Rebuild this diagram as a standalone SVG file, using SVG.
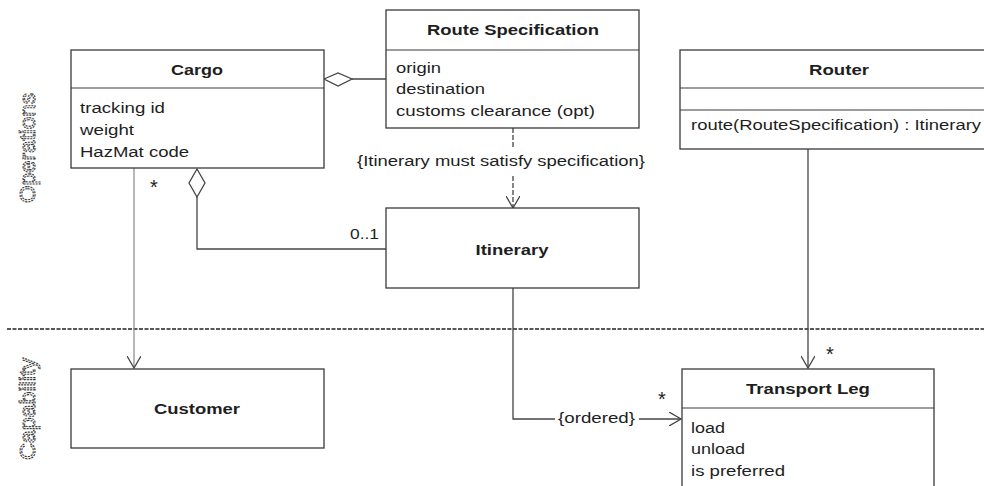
<svg xmlns="http://www.w3.org/2000/svg" width="984" height="486" viewBox="0 0 984 486">
<defs>
<style>
.box{fill:#fff;stroke:#3a3a3a;stroke-width:1.3}
.div{stroke:#3a3a3a;stroke-width:1.2;fill:none}
.t{font-family:"Liberation Sans",Arial,sans-serif;font-size:14px;fill:#1e1e1e}
.b{font-weight:bold;text-anchor:middle}
.ast{font-family:"Liberation Sans",Arial,sans-serif;font-size:20px;fill:#222;text-anchor:middle}
.ln{stroke:#444;stroke-width:1.3;fill:none}
.lt{stroke:#888;stroke-width:1.2;fill:none}
.dia{fill:#fff;stroke:#444;stroke-width:1.3}
.lane{font-family:"Liberation Sans",Arial,sans-serif;font-size:22px;fill:#fff;stroke:#3a3a3a;stroke-width:1.1;stroke-dasharray:2 1;text-anchor:middle}
</style>
<marker id="open" viewBox="0 0 14 14" refX="12" refY="7" markerWidth="14" markerHeight="14" markerUnits="userSpaceOnUse" orient="auto">
<path d="M0,0 L12,7 L0,14" fill="none" stroke="#444" stroke-width="1.3"/>
</marker>
</defs>

<g id="lanes">
<line x1="7" y1="329" x2="984" y2="329" stroke="#222" stroke-width="1.4" stroke-dasharray="4 1.5"/>
<text class="lane" transform="translate(35,148) rotate(-90)" textLength="110" lengthAdjust="spacingAndGlyphs">Operations</text>
<text class="lane" transform="translate(35,409) rotate(-90)" textLength="102" lengthAdjust="spacingAndGlyphs">Capability</text>
</g>

<g id="connectors">
<polygon class="dia" points="324,79 338,73 352,79 338,86"/>
<line class="ln" x1="352" y1="79" x2="386" y2="79"/>
<polygon class="dia" points="197,169 205,183 197,197 189,183"/>
<polyline class="ln" points="197,197 197,249 386,249"/>
<line class="lt" x1="134" y1="168" x2="134" y2="368" marker-end="url(#open)"/>
<line class="ln" x1="513" y1="128" x2="513" y2="149" stroke-dasharray="5 2"/>
<line class="ln" x1="513" y1="176" x2="513" y2="208" stroke-dasharray="5 2" marker-end="url(#open)"/>
<polyline class="ln" points="513,288 513,419 555,419"/>
<line class="ln" x1="639" y1="419" x2="681" y2="419" marker-end="url(#open)"/>
<line class="ln" x1="808" y1="149" x2="808" y2="368" marker-end="url(#open)"/>
<text class="ast" x="154" y="194">*</text>
<text class="t" x="350" y="239" textLength="29" lengthAdjust="spacingAndGlyphs">0..1</text>
<text class="t" x="357" y="166" textLength="288" lengthAdjust="spacingAndGlyphs">{Itinerary must satisfy specification}</text>
<text class="t" x="558" y="423" textLength="77" lengthAdjust="spacingAndGlyphs">{ordered}</text>
<text class="ast" x="662" y="406">*</text>
<text class="ast" x="830" y="361">*</text>
</g>

<g id="cargo">
<rect class="box" x="71" y="50" width="253" height="118"/>
<line class="div" x1="71" y1="88" x2="324" y2="88"/>
<text class="t b" x="197" y="75" textLength="52" lengthAdjust="spacingAndGlyphs">Cargo</text>
<text class="t" x="80" y="113" textLength="85" lengthAdjust="spacingAndGlyphs">tracking id</text>
<text class="t" x="80" y="135" textLength="54" lengthAdjust="spacingAndGlyphs">weight</text>
<text class="t" x="80" y="157" textLength="109" lengthAdjust="spacingAndGlyphs">HazMat code</text>
</g>

<g id="route-specification">
<rect class="box" x="386" y="10" width="253" height="118"/>
<line class="div" x1="386" y1="50" x2="639" y2="50"/>
<text class="t b" x="513" y="35" textLength="172" lengthAdjust="spacingAndGlyphs">Route Specification</text>
<text class="t" x="396" y="73" textLength="45" lengthAdjust="spacingAndGlyphs">origin</text>
<text class="t" x="396" y="94" textLength="89" lengthAdjust="spacingAndGlyphs">destination</text>
<text class="t" x="396" y="116" textLength="199" lengthAdjust="spacingAndGlyphs">customs clearance (opt)</text>
</g>

<g id="router">
<rect class="box" x="680" y="50" width="320" height="99"/>
<line class="div" x1="680" y1="88" x2="1000" y2="88"/>
<line class="div" x1="680" y1="110" x2="1000" y2="110"/>
<text class="t b" x="839" y="75" textLength="60" lengthAdjust="spacingAndGlyphs">Router</text>
<text class="t" x="691" y="130" textLength="290" lengthAdjust="spacingAndGlyphs">route(RouteSpecification) : Itinerary</text>
</g>

<g id="itinerary">
<rect class="box" x="386" y="208" width="253" height="80"/>
<text class="t b" x="512" y="255" textLength="73" lengthAdjust="spacingAndGlyphs">Itinerary</text>
</g>

<g id="customer">
<rect class="box" x="71" y="369" width="253" height="79"/>
<text class="t b" x="197" y="414" textLength="86" lengthAdjust="spacingAndGlyphs">Customer</text>
</g>

<g id="transport-leg">
<rect class="box" x="682" y="369" width="252" height="130"/>
<line class="div" x1="682" y1="408" x2="934" y2="408"/>
<text class="t b" x="808" y="394" textLength="124" lengthAdjust="spacingAndGlyphs">Transport Leg</text>
<text class="t" x="691" y="433" textLength="34" lengthAdjust="spacingAndGlyphs">load</text>
<text class="t" x="691" y="454" textLength="54" lengthAdjust="spacingAndGlyphs">unload</text>
<text class="t" x="691" y="476" textLength="94" lengthAdjust="spacingAndGlyphs">is preferred</text>
</g>
</svg>
